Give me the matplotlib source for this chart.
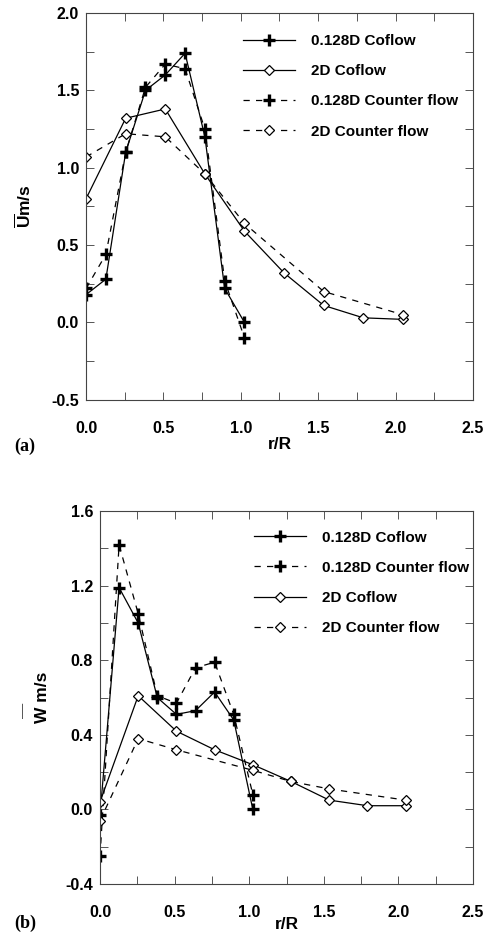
import numpy as np
import matplotlib
matplotlib.use("Agg")
import matplotlib.pyplot as plt
from matplotlib.ticker import MultipleLocator, FormatStrFormatter

plt.rcParams['font.family'] = ['Liberation Sans', 'DejaVu Sans']
plt.rcParams['font.weight'] = 'bold'
plt.rcParams['mathtext.fontset'] = 'custom'
plt.rcParams['mathtext.rm'] = 'Liberation Sans:bold'
plt.rcParams['mathtext.bf'] = 'Liberation Sans:bold'

# radial positions
r_small = [0, 0.128, 0.256, 0.384, 0.512, 0.64, 0.768, 0.896, 1.024]
r_2d = [0, 0.256, 0.512, 0.768, 1.024, 1.28, 1.536, 1.792, 2.048]
r_2d_cnt_a = [0, 0.256, 0.512, 0.768, 1.024, 1.536, 2.048]
r_2d_cnt_b = [0, 0.256, 0.512, 1.024, 1.28, 1.536, 2.048]

# (a) mean axial velocity U
u_small_co = [0.18, 0.28, 1.10, 1.50, 1.60, 1.74, 1.20, 0.22, 0.0]
u_small_cnt = [0.22, 0.44, 1.10, 1.52, 1.67, 1.64, 1.25, 0.27, -0.10]
u_2d_co = [0.80, 1.32, 1.38, 0.96, 0.59, 0.32, 0.11, 0.03, 0.02]
u_2d_cnt = [1.07, 1.22, 1.20, 0.96, 0.64, 0.20, 0.05]

# (b) mean swirl velocity W
w_small_co = [-0.03, 1.19, 1.00, 0.60, 0.51, 0.53, 0.63, 0.48, 0.0]
w_small_cnt = [-0.25, 1.42, 1.05, 0.61, 0.57, 0.76, 0.79, 0.51, 0.08]
w_2d_co = [0.04, 0.61, 0.42, 0.32, 0.24, 0.15, 0.05, 0.02, 0.02]
w_2d_cnt = [-0.06, 0.38, 0.32, 0.21, 0.15, 0.11, 0.05]

lab_co = '0.128D Coflow'
lab_cnt = '0.128D Counter flow'
lab2_co = '2D Coflow'
lab2_cnt = '2D Counter flow'

fig = plt.figure(figsize=(4.89, 9.32), dpi=100)
ax1 = fig.add_axes([0.176, 0.571, 0.791, 0.415])
ax2 = fig.add_axes([0.2045, 0.0515, 0.763, 0.400])

plus = dict(marker='+', markersize=9, markeredgewidth=2.4, color='black', lw=0.9)
diam = dict(marker='D', markersize=5.5, markerfacecolor='white', markeredgecolor='black',
            markeredgewidth=0.9, color='black', lw=0.9)
dash = (0, (5, 5))

ax1.plot(r_small, u_small_co, ls='-', label=lab_co, **plus)
ax1.plot(r_2d, u_2d_co, ls='-', label=lab2_co, **diam)
ax1.plot(r_small, u_small_cnt, ls=dash, label=lab_cnt, **plus)
ax1.plot(r_2d_cnt_a, u_2d_cnt, ls=dash, label=lab2_cnt, **diam)

ax2.plot(r_small, w_small_co, ls='-', label=lab_co, **plus)
ax2.plot(r_small, w_small_cnt, ls=dash, label=lab_cnt, **plus)
ax2.plot(r_2d, w_2d_co, ls='-', label=lab2_co, **diam)
ax2.plot(r_2d_cnt_b, w_2d_cnt, ls=dash, label=lab2_cnt, **diam)

for ax, anchor in ((ax1, (0.405, 0.946)), (ax2, (0.412, 0.948))):
    ax.set_xlim(0, 2.5)
    ax.xaxis.set_major_locator(MultipleLocator(0.5))
    ax.xaxis.set_minor_locator(MultipleLocator(0.25))
    ax.xaxis.set_major_formatter(FormatStrFormatter('%.1f'))
    ax.tick_params(which='both', direction='in', top=True, right=True, labelsize=11.5)
    ax.tick_params(axis='x', pad=15)
    ax.tick_params(axis='y', pad=5)
    ax.tick_params(which='both', length=6, width=0.7, color='#555555')
    for s in ax.spines.values():
        s.set_linewidth(0.8)
        s.set_color('#444444')
    ax.legend(loc='upper left', frameon=False, fontsize=11, handlelength=3.4,
              handletextpad=1.05, labelspacing=1.06, borderaxespad=0, borderpad=0,
              bbox_to_anchor=anchor)

ax1.set_xlabel('r/R', fontsize=12.5, fontweight='bold', labelpad=1)
ax2.set_xlabel('r/R', fontsize=12.5, fontweight='bold', labelpad=-2)

ax1.set_ylim(-0.5, 2.0)
ax1.yaxis.set_major_locator(MultipleLocator(0.5))
ax1.yaxis.set_minor_locator(MultipleLocator(0.25))
ax1.yaxis.set_major_formatter(FormatStrFormatter('%.1f'))
ax1.set_ylabel(r'$\overline{\mathrm{U}}$m/s', fontsize=12.5, fontweight='bold')
ax1.yaxis.set_label_coords(-0.135, 0.5)

ax2.set_ylim(-0.4, 1.6)
ax2.yaxis.set_major_locator(MultipleLocator(0.4))
ax2.yaxis.set_minor_locator(MultipleLocator(0.2))
ax2.yaxis.set_major_formatter(FormatStrFormatter('%.1f'))
ax2.set_ylabel('W m/s', fontsize=12.5, fontweight='bold')
ax2.yaxis.set_label_coords(-0.134, 0.5)
# detached overbar of the W label, as in the original figure
ax2.text(-0.205, 0.465, '\u2014', rotation=90, fontsize=11, color='#555555',
         transform=ax2.transAxes, ha='center', va='center', fontweight='normal')

fig.text(0.03, 0.516, '(a)', fontsize=13, fontweight='bold', family='Liberation Serif')
fig.text(0.03, 0.004, '(b)', fontsize=13, fontweight='bold', family='Liberation Serif')

fig.savefig('out.png', dpi=100)
